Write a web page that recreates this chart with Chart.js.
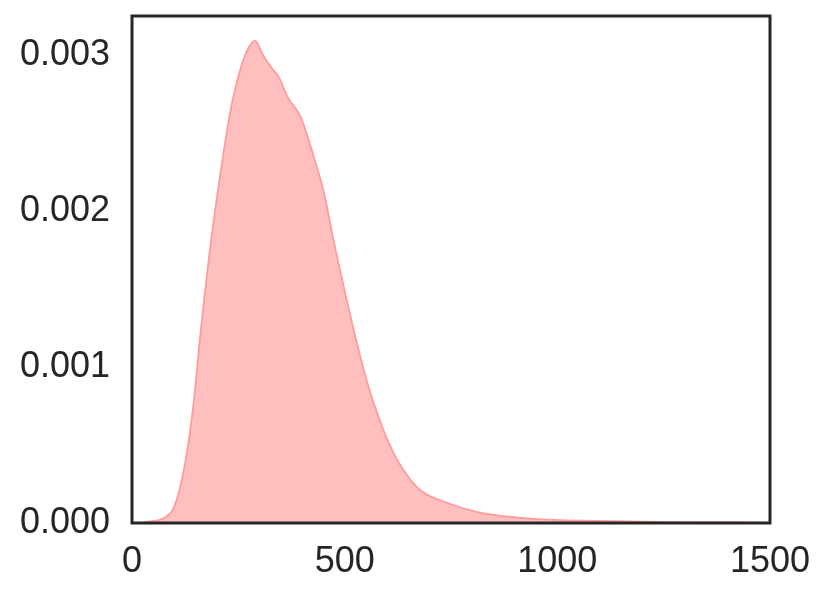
<!DOCTYPE html>
<html>
<head>
<meta charset="utf-8">
<script src="https://cdn.jsdelivr.net/npm/chart.js@4.4.1/dist/chart.umd.min.js"></script>
<style>
  html, body { margin: 0; padding: 0; background: #ffffff; }
  #wrap { width: 829px; height: 598px; position: relative; }
</style>
</head>
<body>
<div id="wrap"><canvas id="c" width="829" height="598"></canvas></div>
<script>
// Density estimate
const xValues = [0, 20, 37, 75, 99, 122, 143, 162, 185, 209, 232, 256, 275, 289, 310, 333, 345, 366, 397, 427, 451, 474, 498, 521, 545, 568, 601, 638, 678, 742, 812, 944, 1101, 1258, 1500];
const densityValues = [0, 0.000001, 0.000008, 0.000032, 0.000103, 0.00034, 0.000724, 0.00124, 0.00179, 0.00226, 0.00265, 0.00292, 0.00305, 0.00309, 0.00299, 0.0029, 0.00286, 0.00273, 0.0026, 0.00235, 0.00212, 0.00181, 0.00151, 0.00124, 0.00098, 0.00077, 0.00053, 0.00034, 0.00021, 0.000128, 0.00007, 0.000026, 0.000013, 0.000006, 0.000002];
const xTicks = [0, 500, 1000, 1500];
const yTicks = [0, 0.001, 0.002, 0.003];
const xRange = [0, 1500];
const yRange = [0, 0.00325];

const points = xValues.map((x, i) => ({ x: x, y: densityValues[i] }));

const frame = {
  id: 'frame',
  afterDraw(chart) {
    const { ctx, chartArea: a } = chart;
    ctx.save();
    ctx.strokeStyle = '#262626';
    ctx.lineWidth = 3;
    ctx.strokeRect(a.left, a.top, a.right - a.left, a.bottom - a.top);
    ctx.restore();
  }
};

const font = { family: '"Liberation Sans", Arial, sans-serif', size: 36 };

new Chart(document.getElementById('c'), {
  type: 'line',
  data: {
    datasets: [{
      data: points,
      borderColor: '#ff9b9b',
      borderWidth: 1.8,
      backgroundColor: 'rgba(255, 0, 0, 0.25)',
      fill: 'origin',
      pointRadius: 0,
      cubicInterpolationMode: 'monotone'
    }]
  },
  options: {
    responsive: false,
    animation: false,
    layout: { padding: { top: 16, right: 59, left: 0, bottom: 0 } },
    plugins: { legend: { display: false }, tooltip: { enabled: false } },
    scales: {
      x: {
        type: 'linear',
        min: xRange[0], max: xRange[1],
        grid: { display: false, drawTicks: false },
        border: { display: false },
        afterBuildTicks: s => { s.ticks = xTicks.map(v => ({ value: v })); },
        afterFit: s => { s.height = 598 - 523; s.paddingLeft = 0; s.paddingRight = 0; },
        ticks: { color: '#262626', font: font, padding: 17, maxRotation: 0, autoSkip: false,
                 callback: v => String(v) }
      },
      y: {
        type: 'linear',
        min: yRange[0], max: yRange[1],
        grid: { display: false, drawTicks: false },
        border: { display: false },
        afterBuildTicks: s => { s.ticks = yTicks.map(v => ({ value: v })); },
        afterFit: s => { s.width = 132; s.paddingTop = 0; s.paddingBottom = 0; },
        ticks: { color: '#262626', font: font, padding: 22, autoSkip: false,
                 callback: v => Number(v).toFixed(3) }
      }
    }
  },
  plugins: [frame]
});
</script>
</body>
</html>
